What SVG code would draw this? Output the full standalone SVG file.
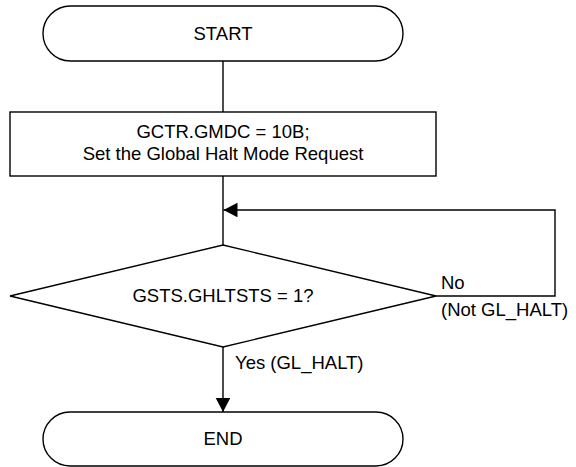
<svg xmlns="http://www.w3.org/2000/svg" width="576" height="467" viewBox="0 0 576 467">
  <defs>
    <style>
      .shape { fill: #ffffff; stroke: #000000; stroke-width: 1.4; }
      .conn { fill: none; stroke: #000000; stroke-width: 1.4; }
      .t { font-family: "Liberation Sans", Arial, sans-serif; font-size: 18.5px; fill: #000000; }
      .c { text-anchor: middle; }
    </style>
    <marker id="arrow" markerUnits="userSpaceOnUse" markerWidth="15" markerHeight="15" refX="14" refY="7.3" orient="auto">
      <path d="M0,0 L14,7.3 L0,14.6 z" fill="#000000"/>
    </marker>
  </defs>
  <rect width="576" height="467" fill="#ffffff"/>

  <g id="connectors">
    <line class="conn" x1="223" y1="61" x2="223" y2="112"/>
    <line class="conn" x1="223" y1="176" x2="223" y2="245"/>
    <polyline class="conn" points="436,296 555,296 555,210 223.5,210" marker-end="url(#arrow)"/>
    <line class="conn" x1="223" y1="347" x2="223" y2="412" marker-end="url(#arrow)"/>
  </g>

  <g id="start">
    <rect class="shape" x="43" y="6" width="360" height="55" rx="27.5" ry="27.5"/>
    <text class="t c" x="223" y="40">START</text>
  </g>

  <g id="set-request">
    <rect class="shape" x="10" y="112" width="426" height="64"/>
    <text class="t c" x="223" y="138">GCTR.GMDC = 10B;</text>
    <text class="t c" x="223" y="160">Set the Global Halt Mode Request</text>
  </g>

  <g id="check">
    <polygon class="shape" points="10,296 223,245 436,296 223,347"/>
    <text class="t c" x="223" y="302">GSTS.GHLTSTS = 1?</text>
  </g>

  <g id="labels">
    <text class="t" x="441" y="289">No</text>
    <text class="t" x="441" y="316">(Not GL_HALT)</text>
    <text class="t" x="235" y="369">Yes (GL_HALT)</text>
  </g>

  <g id="end">
    <rect class="shape" x="43" y="412" width="360" height="54" rx="27" ry="27"/>
    <text class="t c" x="223" y="445">END</text>
  </g>
</svg>
